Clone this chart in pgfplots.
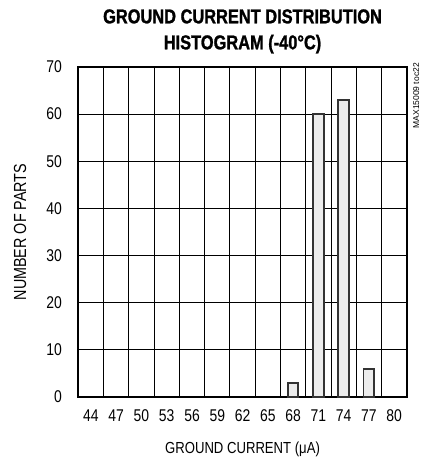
\documentclass[border=0pt]{standalone}
\usepackage{fontspec}
\setmainfont{Liberation Sans}[FakeStretch=0.82, BoldFeatures={FakeBold=1.2}]
\newfontfamily\plainsans{Liberation Sans}
\usepackage{pgfplots}
\pgfplotsset{compat=1.18}
\begin{document}
\begin{tikzpicture}
\path[use as bounding box] (-78.3pt,-63pt) rectangle (341.7pt,397pt);
\begin{axis}[
  at={(0,0)}, anchor=south west,
  width=328.5pt, height=330pt, scale only axis,
  clip=false,
  xmin=-0.5, xmax=12.5, ymin=0, ymax=70,
  xtick={0,...,12},
  xticklabels={44,47,50,53,56,59,62,65,68,71,74,77,80},
  minor xtick={0.5,1.5,...,11.5},
  xminorgrids=true,
  ytick={0,10,...,70},
  ymajorgrids=true,
  grid style={black, line width=0.9pt},
  minor grid style={black, line width=0.9pt},
  major tick length=0pt, minor tick length=0pt,
  tick style={draw=none},
  axis line style={line width=2pt},
  /pgf/number format/assume math mode=true,
  ticklabel style={font=\fontsize{17}{19}\selectfont},
  xticklabel style={yshift=-9pt},
  yticklabel style={xshift=-13pt},
  xlabel={GROUND CURRENT (μA)},
  ylabel={NUMBER OF PARTS},
  xlabel style={font=\fontsize{16}{18}\selectfont, at={(axis description cs:0.5,-0.158)}, anchor=center},
  ylabel style={font=\fontsize{17.5}{19}\selectfont, at={(axis description cs:-0.177,0.5)}, anchor=center},
  title={GROUND CURRENT DISTRIBUTION\\HISTOGRAM (-40°C)},
  title style={align=center, font=\bfseries\fontsize{20}{26}\selectfont,
    at={(axis description cs:0.5,1)}, anchor=south, yshift=4pt},
]
\addplot[ybar, bar width=0.42, draw=black!80, line width=1.8pt, fill=gray!15]
  coordinates {(8,3) (9,60) (10,63) (11,6)};
\node[rotate=90, anchor=east, font=\plainsans\fontsize{8.5}{10}\selectfont, inner sep=0pt]
  at ([xshift=9.5pt, yshift=4pt]rel axis cs:1,1) {MAX15009 toc22};
\end{axis}
\end{tikzpicture}
\end{document}
